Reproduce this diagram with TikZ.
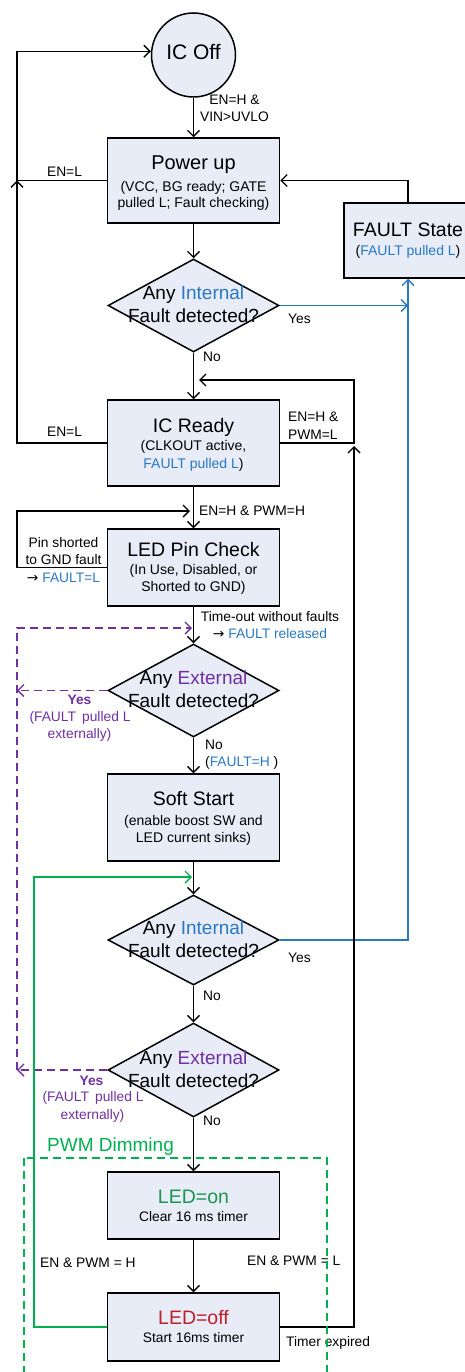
\documentclass[tikz,border=0pt]{standalone}
\usepackage{fontspec}
\setmainfont{Liberation Sans}
\newfontfamily\arrowfont{DejaVu Sans}
\usetikzlibrary{arrows.meta,shapes.geometric}
\definecolor{boxfill}{RGB}{232,236,247}
\definecolor{fblue}{RGB}{40,120,196}
\definecolor{fpurple}{RGB}{112,48,160}
\definecolor{fgreen}{RGB}{0,176,80}
\definecolor{dgreen}{RGB}{24,150,80}
\definecolor{dred}{RGB}{190,30,45}
\newcommand{\myfs}[1]{\fontsize{#1}{#1}\selectfont}
\newcommand{\myarr}{{\arrowfont →}}
\tikzset{
  box/.style={draw=black, line width=1.5pt, fill=boxfill, minimum width=172pt, inner sep=0pt},
  dia/.style={shape=diamond, draw=black, line width=1.5pt, fill=boxfill, minimum width=171pt, minimum height=93pt, inner sep=0pt},
  ttl/.style={anchor=base, inner sep=0pt, font=\myfs{19.5}},
  sub/.style={anchor=base, inner sep=0pt, font=\myfs{14}},
  lbl/.style={anchor=base, inner sep=0pt, font=\myfs{13.8}},
  lblw/.style={lbl, anchor=base west},
  conn/.style={line width=1.4pt, draw=black, ->},
  bconn/.style={conn, draw=fblue},
  pconn/.style={conn, draw=fpurple, dash pattern=on 8pt off 5pt},
  gconn/.style={conn, draw=fgreen},
}
\begin{document}
\begin{tikzpicture}[x=1pt,y=-1pt,>={Straight Barb[length=6pt,width=12pt]}]
\useasboundingbox (0,0) rectangle (465,1372);
% helper coordinates
\coordinate (lx) at (17,0);
\coordinate (rx) at (354,0);
\coordinate (c1) at (354,380);
\coordinate (e1) at (199,380);
\coordinate (e2) at (354,446);
\coordinate (c2) at (17,511);
\coordinate (e3) at (190,511);
\coordinate (c3) at (17,628);
\coordinate (e4) at (192,628);
\coordinate (c5) at (34,877);
\coordinate (e5) at (192,877);

% shapes
\node[circle, draw=black, line width=1.5pt, fill=boxfill, minimum size=84pt, inner sep=0pt] (off) at (193.5,55) {};
\node[box, minimum height=85pt] (pu) at (193.5,180.5) {};
\node[box, minimum width=128pt, minimum height=75pt] (fs) at (408,240.5) {};
\node[dia] (d1) at (193.5,305.5) {};
\node[box, minimum height=86pt] (icr) at (193.5,443) {};
\node[box, minimum height=77pt] (lpc) at (193.5,567.5) {};
\node[dia] (d2) at (193.5,690.5) {};
\node[box, minimum height=87pt] (ss) at (193.5,817.5) {};
\node[dia, minimum height=90pt] (d3) at (193.5,940) {};
\node[dia, minimum height=94pt] (d4) at (193.5,1070) {};
\node[box, minimum height=67pt] (ledon) at (193.5,1205.5) {};
\node[box, minimum height=68pt] (ledoff) at (193.5,1327) {};

% main flow
\draw[conn] (off.south) -- (pu.north);
\draw[conn] (pu.south) -- (d1.north);
\draw[conn] (d1.south) -- (icr.north);
\draw[conn] (icr.south) -- (lpc.north);
\draw[conn] (lpc.south) -- (d2.north);
\draw[conn] (d2.south) -- (ss.north);
\draw[conn] (ss.south) -- (d3.north);
\draw[conn] (d3.south) -- (d4.north);
\draw[conn] (d4.south) -- (ledon.north);
\draw[conn] (ledon.south) -- (ledoff.north);

% left loop to IC Off
\draw[conn] (icr.west) -- (icr.west -| lx) -- (pu.west -| lx);
\draw[conn] (pu.west) -- (pu.west -| lx) |- (off.175);
% fault state back to power up
\draw[conn] (fs.north) |- (pu.east);
% internal faults
\draw[bconn] (d1.east) -- (d1.east -| fs.south);
\draw[bconn] (d3.east) -| (fs.south);
% IC ready loop
\draw[conn] (icr.east) -| (c1) -- (e1);
% timer expired
\draw[conn] (ledoff.east) -| (e2);
% LED pin check loop
\draw[conn] (lpc.west) -| (c2) -- (e3);
% external faults
\draw[pconn] (d2.west) -- (d2.west -| lx);
\draw[pconn] (d4.west) -- (d4.west -| lx);
\draw[pconn] (d4.west -| lx) -- (c3) -- (e4);
% PWM loop
\draw[gconn] (ledoff.west) -| (c5) -- (e5);

% texts
\node[ttl, font=\myfs{21}] (toff) at (193.5,60) {IC Off};
\node[lbl] (t1a) at (234.5,105) {EN=H \&};
\node[lbl] (t1b) at (234.5,122) {VIN>UVLO};

\node[ttl, font=\myfs{20}] (tpu1) at (193.5,170) {Power up};
\node[sub] (tpu2) at (193.5,192) {(VCC, BG ready; GATE};
\node[sub] (tpu3) at (193.5,208) {pulled L; Fault checking)};
\node[lbl] (ten1) at (64.5,176.5) {EN=L};

\node[ttl] (tfs1) at (408,236.5) {FAULT State};
\node[sub] (tfs2) at (408,255.5) {(\textcolor{fblue}{FAULT pulled L})};

\node[ttl, font=\myfs{19}] (td1a) at (193.5,299.5) {Any \textcolor{fblue}{Internal}};
\node[ttl, font=\myfs{19}] (td1b) at (193.5,322.5) {Fault detected?};
\node[lblw] (ty1) at (288,323) {Yes};
\node[lblw] (tn1) at (203,361.5) {No};

\node[ttl] (ticr1) at (193.5,432) {IC Ready};
\node[sub] (ticr2) at (193.5,450) {(CLKOUT active,};
\node[sub] (ticr3) at (193.5,468) {\textcolor{fblue}{FAULT pulled L})};
\node[lbl] (ten2) at (64.5,436.5) {EN=L};
\node[lblw] (tpl1) at (288,421.5) {EN=H \&};
\node[lblw] (tpl2) at (288,439) {PWM=L};
\node[lblw] (tph) at (199,515.5) {EN=H \& PWM=H};

\node[ttl] (tlpc1) at (193.5,556) {LED Pin Check};
\node[sub] (tlpc2) at (193.5,574) {(In Use, Disabled, or};
\node[sub] (tlpc3) at (193.5,591) {Shorted to GND)};
\node[lbl] (tps1) at (63.5,547) {Pin shorted};
\node[lbl] (tps2) at (63.5,564) {to GND fault};
\node[lbl] (tps3) at (63.5,582) {\myarr\ \textcolor{fblue}{FAULT=L}};
\node[lbl] (tto1) at (270,621.5) {Time-out without faults};
\node[lbl] (tto2) at (270,638) {\myarr\ \textcolor{fblue}{FAULT released}};

\node[ttl, font=\myfs{19}] (td2a) at (193.5,684.5) {Any \textcolor{fpurple}{External}};
\node[ttl, font=\myfs{19}] (td2b) at (193.5,707.5) {Fault detected?};
\node[lbl, text=fpurple, font=\myfs{13.8}\bfseries] (ty2a) at (79.5,704) {Yes};
\node[lbl, text=fpurple] (ty2b) at (80,721.5) {(FAULT\, pulled L};
\node[lbl, text=fpurple] (ty2c) at (79.5,738) {externally)};
\node[lblw] (tn2a) at (205,749) {No};
\node[lblw] (tn2b) at (205,766.5) {(\textcolor{fblue}{FAULT=H} )};

\node[ttl] (tss1) at (193.5,805.5) {Soft Start};
\node[sub] (tss2) at (193.5,825) {(enable boost SW and};
\node[sub] (tss3) at (193.5,842) {LED current sinks)};

\node[ttl, font=\myfs{19}] (td3a) at (193.5,934) {Any \textcolor{fblue}{Internal}};
\node[ttl, font=\myfs{19}] (td3b) at (193.5,957) {Fault detected?};
\node[lblw] (ty3) at (288,962.5) {Yes};
\node[lblw] (tn3) at (203,1000) {No};

\node[ttl, font=\myfs{19}] (td4a) at (193.5,1064) {Any \textcolor{fpurple}{External}};
\node[ttl, font=\myfs{19}] (td4b) at (193.5,1087) {Fault detected?};
\node[lbl, text=fpurple, font=\myfs{13.8}\bfseries] (ty4a) at (91.5,1085) {Yes};
\node[lbl, text=fpurple] (ty4b) at (93,1101.5) {(FAULT\, pulled L};
\node[lbl, text=fpurple] (ty4c) at (92.5,1119) {externally)};
\node[lblw] (tn4) at (203,1125) {No};

\node[ttl, anchor=base west, text=fgreen, font=\myfs{19}] (tpwm) at (47,1151.5) {PWM Dimming};
\node[ttl, text=dgreen] (ton1) at (193.5,1203) {LED=on};
\node[lbl] (ton2) at (193.5,1221) {Clear 16 ms timer};
\node[ttl, text=dred] (toff1) at (193.5,1324) {LED=off};
\node[lbl] (toff2) at (193.5,1342.5) {Start 16ms timer};
\node[lblw] (tenh) at (40,1267.5) {EN \& PWM = H};
\node[lblw] (tenl) at (247,1265) {EN \& PWM = L};
\node[lblw] (ttim) at (286,1346.5) {Timer expired};

% PWM dimming group frame
\draw[fgreen, line width=1.3pt, dash pattern=on 8pt off 5pt] (24,1158) rectangle (327,1400);
\end{tikzpicture}
\end{document}
